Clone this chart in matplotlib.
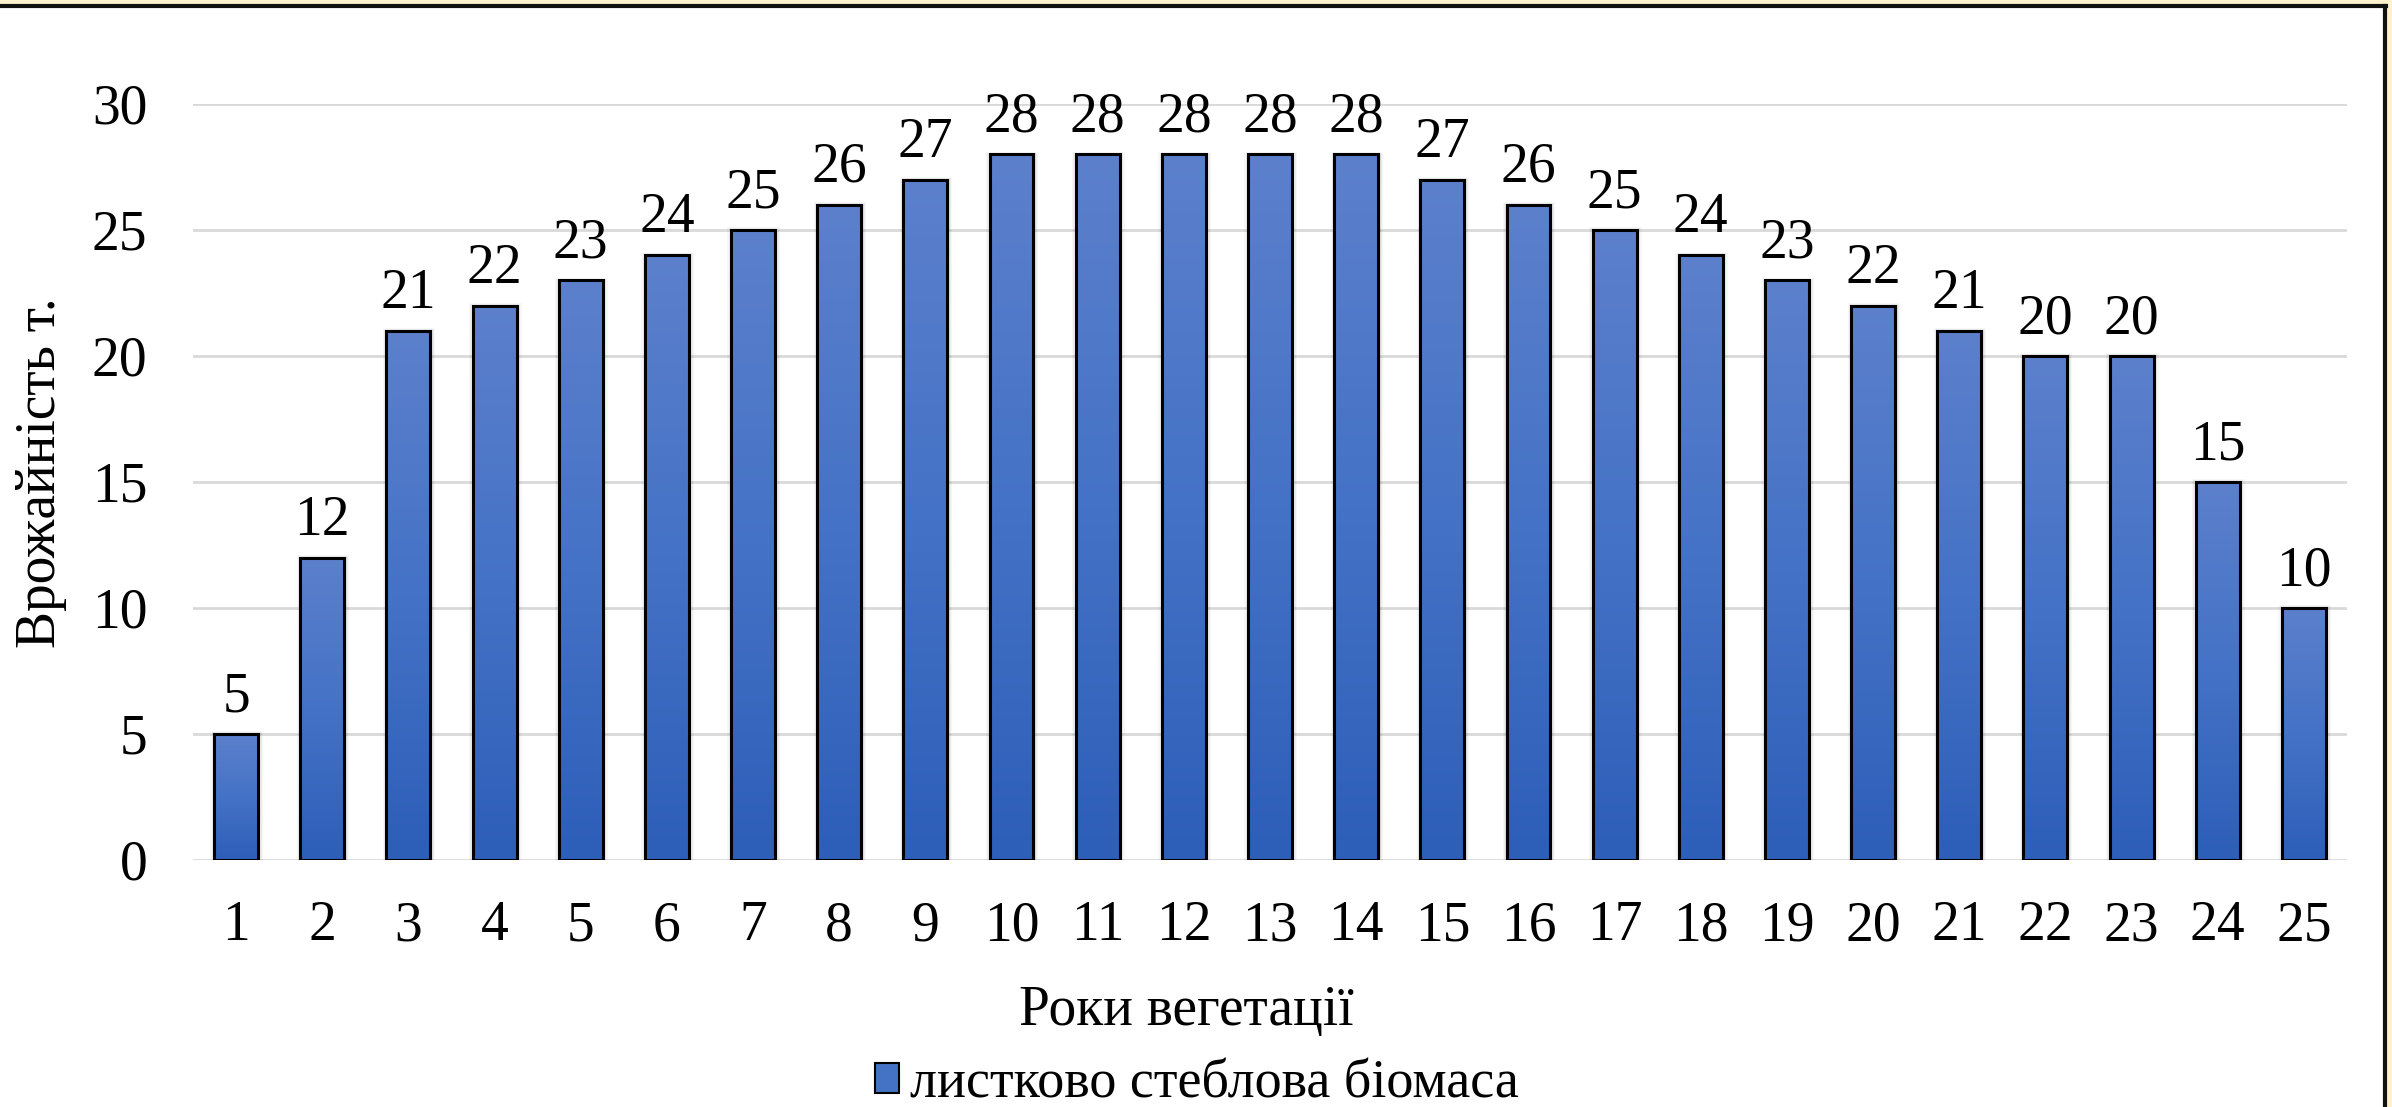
import matplotlib
matplotlib.use("Agg")
import matplotlib.pyplot as plt
import numpy as np
from matplotlib.patches import Rectangle, Patch
from matplotlib.colors import LinearSegmentedColormap

plt.rcParams['font.family'] = ['Liberation Serif', 'DejaVu Serif']

years = list(range(1, 26))
yields = [5, 12, 21, 22, 23, 24, 25, 26, 27, 28, 28, 28, 28, 28, 27, 26, 25, 24, 23, 22, 21, 20, 20, 15, 10]
y_ticks = [0, 5, 10, 15, 20, 25, 30]
x_label = "Роки вегетації"
y_label = "Врожайність т."
series_name = "листково стеблова біомаса"

W, H = 2392, 1107
fig = plt.figure(figsize=(W / 100, H / 100), dpi=100)
fig.patch.set_facecolor('#FFF2CC')

# white chart area with black border (top and right visible)
fig.patches.append(Rectangle((0, 0), 2385 / W, 1 - 6 / H, transform=fig.transFigure,
                             facecolor='white', edgecolor='none', zorder=-10))
fig.lines.append(plt.Line2D([0, 2386 / W], [1 - 6 / H, 1 - 6 / H], transform=fig.transFigure,
                            color='#111111', lw=3, zorder=1))
fig.lines.append(plt.Line2D([2385 / W, 2385 / W], [0, 1 - 6 / H], transform=fig.transFigure,
                            color='#111111', lw=3, zorder=1))

left, right = 193 / W, 2347 / W
bottom, top = 1 - 860 / H, 1 - 104 / H
ax = fig.add_axes([left, bottom, right - left, top - bottom])
ax.set_facecolor('none')

cmap = LinearSegmentedColormap.from_list('g', ['#2D5EB8', '#4472C6', '#5C80CC'])
grad = np.linspace(0, 1, 256).reshape(-1, 1)

bw = 0.51
bars = ax.bar(years, yields, width=bw, facecolor='none', edgecolor='black', linewidth=2.2, zorder=4)
for b in bars:
    x0, w, h = b.get_x(), b.get_width(), b.get_height()
    # soft shadow
    for k, a in [(0.05, 0.03), (0.035, 0.045), (0.02, 0.06)]:
        ax.add_patch(Rectangle((x0 - k + 0.008, 0.0), w + 2 * k, h + k * 2,
                               facecolor='black', edgecolor='none', alpha=a, zorder=2))
    ax.imshow(grad, cmap=cmap, origin='lower', aspect='auto',
              extent=[x0, x0 + w, 0, h], zorder=3, interpolation='bilinear')

for x, v in zip(years, yields):
    ax.annotate(str(v), (x, v), xytext=(0, 16.5), textcoords='offset points',
                ha='center', va='baseline', fontsize=40, color='black', annotation_clip=False)

ax.set_xlim(0.5, 25.5)
ax.set_ylim(0, 30)
ax.set_yticks(y_ticks)
ax.set_xticks(years)
ax.set_xticklabels([str(y) for y in years])
ax.tick_params(axis='both', length=0, labelsize=40, colors='black')
ax.tick_params(axis='y', pad=33)
ax.tick_params(axis='x', pad=29)
ax.grid(axis='y', color='#D9D9D9', linewidth=2, zorder=0)
ax.set_axisbelow(True)
for s in ax.spines.values():
    s.set_visible(False)

fig.text(1186 / W, 1 - 1011 / H, x_label, ha='center', va='center', fontsize=40)
fig.text(41 / W, 1 - 473 / H, y_label, ha='center', va='center', rotation=90, fontsize=40)

handle = Patch(facecolor='#4472C4', edgecolor='black', linewidth=1.5)
fig.legend([handle], [series_name], loc='center', bbox_to_anchor=(1197 / W, 1 - 1084 / H),
           frameon=False, fontsize=39, handlelength=0.45, handleheight=0.45,
           handletextpad=0.2, borderpad=0, borderaxespad=0)

fig.savefig('out.png', dpi=100, facecolor=fig.get_facecolor())
